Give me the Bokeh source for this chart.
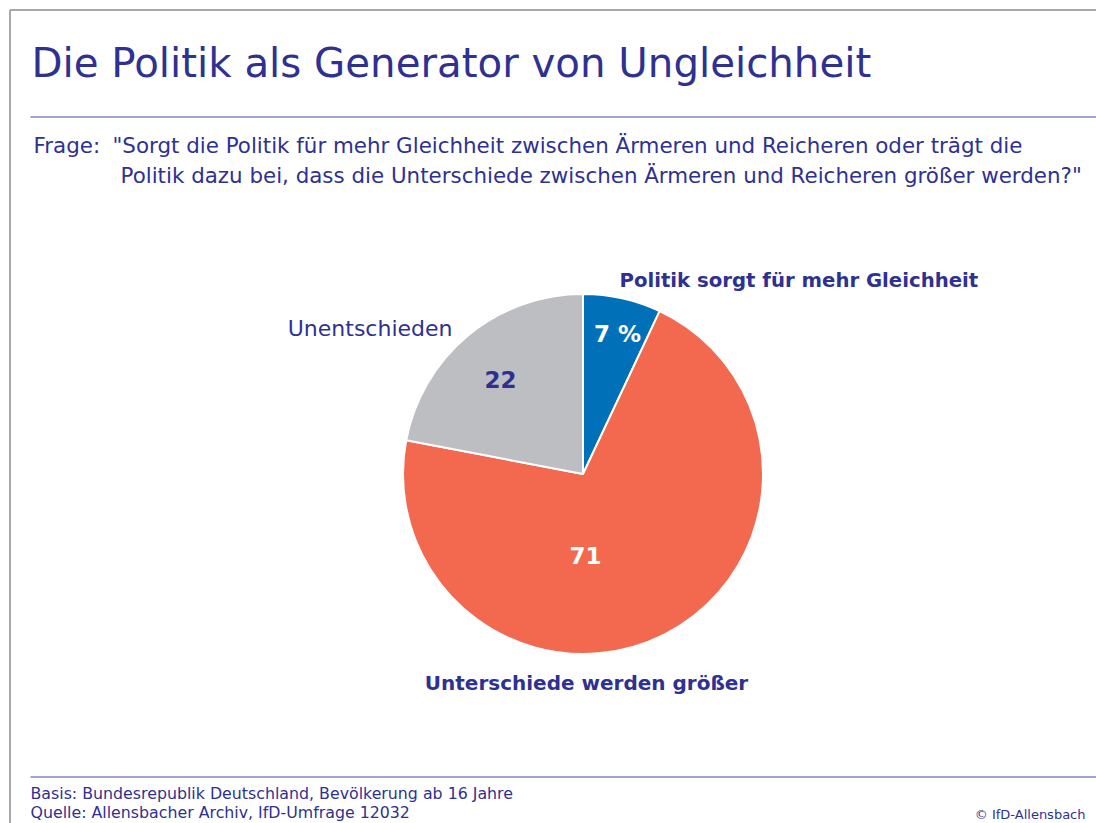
import numpy as np
from bokeh.plotting import figure
from bokeh.models import Range1d, ColumnDataSource
from bokeh.core.properties import value
from bokeh.embed import file_html
from bokeh.resources import INLINE

# ---- data ----
categories = ["Politik sorgt für mehr Gleichheit", "Unterschiede werden größer", "Unentschieden"]
values = [7, 71, 22]
value_labels = ["7 %", "71", "22"]
colors = ["#0071b9", "#f26950", "#bdbec2"]
value_label_colors = ["white", "white", "#2e3192"]

title = "Die Politik als Generator von Ungleichheit"
question_prefix = "Frage:"
question_lines = ['"Sorgt die Politik für mehr Gleichheit zwischen Ärmeren und Reicheren oder trägt die',
                  'Politik dazu bei, dass die Unterschiede zwischen Ärmeren und Reicheren größer werden?"']
footer_lines = ["Basis: Bundesrepublik Deutschland, Bevölkerung ab 16 Jahre",
                "Quelle: Allensbacher Archiv, IfD-Umfrage 12032"]
copyright_text = "© IfD-Allensbach"

W, H = 1096, 823
FONT = "DejaVu Sans"
BLUE = "#2e3192"

def X(sx):
    return sx

def Y(sy):
    return H - sy

p = figure(width=W, height=H, x_range=Range1d(0, W), y_range=Range1d(0, H),
           output_backend="svg", toolbar_location=None, min_border=0)
p.axis.visible = False
p.grid.visible = False
p.outline_line_color = None
p.background_fill_color = "white"
p.border_fill_color = "white"

# frame (gray) left and top
p.line([X(9.5), X(9.5)], [Y(9.5), Y(830)], line_color="#a8a8a8", line_width=2)
p.line([X(9.5), X(1100)], [Y(9.5), Y(9.5)], line_color="#a8a8a8", line_width=2)

# rules
p.line([X(30), X(1100)], [Y(116.5), Y(116.5)], line_color="#8585c5", line_width=1.5)
p.line([X(30), X(1100)], [Y(776.5), Y(776.5)], line_color="#8585c5", line_width=1.5)

# title
p.text(x=[X(31)], y=[Y(63)], text=[title], text_font=value(FONT), text_font_size="40.3px",
       text_color=BLUE, text_baseline="middle", text_align="left")

# question
p.text(x=[X(33)], y=[Y(145)], text=[question_prefix], text_font=value(FONT), text_font_size="21.4px",
       text_color=BLUE, text_baseline="middle")
p.text(x=[X(112), X(120)], y=[Y(145), Y(175)], text=question_lines, text_font=value(FONT),
       text_font_size="21.4px", text_color=BLUE, text_baseline="middle")

# pie
cx, cy, r = X(582.5), Y(473.5), 180
vals = np.array(values, dtype=float)
frac = vals / vals.sum()
cum = np.concatenate([[0], np.cumsum(frac)])
start = np.pi / 2 - cum[:-1] * 2 * np.pi
end = np.pi / 2 - cum[1:] * 2 * np.pi
src = ColumnDataSource(dict(start=end, end=start, color=colors))
p.wedge(x=cx, y=cy, radius=r, start_angle="start", end_angle="end", color="color",
        line_color="white", line_width=2, source=src)

# value labels inside slices
vx = [X(617), X(585), X(500)]
vy = [Y(333), Y(555), Y(379)]
p.text(x=vx, y=vy, text=value_labels, text_color=value_label_colors, text_font=value(FONT),
       text_font_size="23px", text_font_style="bold", text_align="center", text_baseline="middle")

# category labels
p.text(x=[X(619)], y=[Y(280)], text=[categories[0]], text_font=value(FONT), text_font_size="19.7px",
       text_font_style="bold", text_color=BLUE, text_baseline="middle", text_align="left")
p.text(x=[X(586)], y=[Y(682)], text=[categories[1]], text_font=value(FONT), text_font_size="20px",
       text_font_style="bold", text_color=BLUE, text_baseline="middle", text_align="center")
p.text(x=[X(452)], y=[Y(328)], text=[categories[2]], text_font=value(FONT), text_font_size="22px",
       text_color=BLUE, text_baseline="middle", text_align="right")

# footer
p.text(x=[X(30), X(30)], y=[Y(793), Y(812)], text=footer_lines, text_font=value(FONT),
       text_font_size="15.8px", text_color=BLUE, text_baseline="middle")
p.text(x=[X(1085)], y=[Y(814)], text=[copyright_text], text_font=value(FONT),
       text_font_size="13px", text_color=BLUE, text_baseline="middle", text_align="right")

open("out.html", "w").write(file_html(p, INLINE))
